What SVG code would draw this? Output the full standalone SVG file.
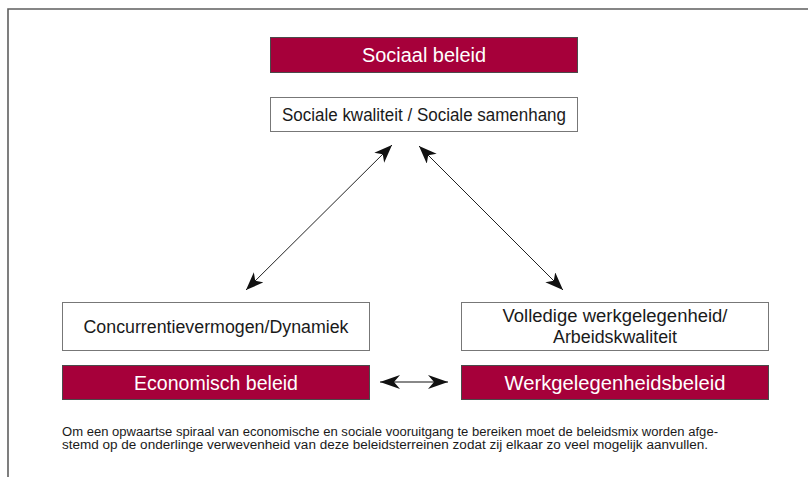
<svg xmlns="http://www.w3.org/2000/svg" width="808" height="477" viewBox="0 0 808 477">
<defs>
<style>
.frame{fill:none;stroke:#5f5f5f;stroke-width:1.6}
.red{fill:#a6003a;stroke:#4a4a4a;stroke-width:1}
.white{fill:#ffffff;stroke:#777;stroke-width:1}
.t{font-family:"Liberation Sans","DejaVu Sans",sans-serif;text-anchor:middle}
.tw{fill:#ffffff;font-size:19.5px}
.tb{fill:#1a1a1a;font-size:17.5px}
.note{font-family:"Liberation Sans","DejaVu Sans",sans-serif;font-size:12.5px;fill:#1a1a1a}
.conn{stroke:#222;stroke-width:1;fill:none}
.conn2{stroke:#888;stroke-width:2;fill:none}
</style>
<marker id="ah" markerUnits="userSpaceOnUse" markerWidth="20" markerHeight="16" refX="18" refY="7" orient="auto-start-reverse">
<path d="M0,0 L18,7 L0,14 L5,7 z" fill="#111"/>
</marker>
<marker id="ah2" markerUnits="userSpaceOnUse" markerWidth="22" markerHeight="16" refX="20" refY="7" orient="auto-start-reverse">
<path d="M0,0 L20,7 L0,14 L6,7 z" fill="#111"/>
</marker>
</defs>
<rect width="808" height="477" fill="#ffffff"/>
<path class="frame" d="M8,477 L8,9 L808,9"/>
<g id="connectors">
<line class="conn" x1="392" y1="145" x2="246" y2="290" marker-start="url(#ah)" marker-end="url(#ah)"/>
<line class="conn" x1="419" y1="146" x2="563" y2="290" marker-start="url(#ah)" marker-end="url(#ah)"/>
<line class="conn2" x1="380" y1="382" x2="448" y2="382" marker-start="url(#ah2)" marker-end="url(#ah2)"/>
</g>
<g id="sociaal-beleid">
<rect class="red" x="270.5" y="37.5" width="307" height="35"/>
<text class="t tw" x="424" y="61.5" textLength="124" lengthAdjust="spacingAndGlyphs">Sociaal beleid</text>
</g>
<g id="sociale-kwaliteit">
<rect class="white" x="270.5" y="97.5" width="307" height="34"/>
<text class="t tb" x="424" y="120.5" textLength="284" lengthAdjust="spacingAndGlyphs">Sociale kwaliteit / Sociale samenhang</text>
</g>
<g id="concurrentie">
<rect class="white" x="62.5" y="302.5" width="307" height="48"/>
<text class="t tb" x="216" y="332.5" textLength="265" lengthAdjust="spacingAndGlyphs">Concurrentievermogen/Dynamiek</text>
</g>
<g id="volledige">
<rect class="white" x="461.5" y="302.5" width="307" height="48"/>
<text class="t tb" x="615" y="321.5" textLength="225" lengthAdjust="spacingAndGlyphs">Volledige werkgelegenheid/</text>
<text class="t tb" x="615" y="343" textLength="124" lengthAdjust="spacingAndGlyphs">Arbeidskwaliteit</text>
</g>
<g id="economisch-beleid">
<rect class="red" x="62.5" y="365.5" width="307" height="34"/>
<text class="t tw" x="216" y="389.5" textLength="164" lengthAdjust="spacingAndGlyphs">Economisch beleid</text>
</g>
<g id="werkgelegenheidsbeleid">
<rect class="red" x="461.5" y="365.5" width="307" height="34"/>
<text class="t tw" x="615" y="389.5" textLength="221" lengthAdjust="spacingAndGlyphs">Werkgelegenheidsbeleid</text>
</g>
<g id="note">
<text class="note" x="62" y="435.5" textLength="656" lengthAdjust="spacingAndGlyphs">Om een opwaartse spiraal van economische en sociale vooruitgang te bereiken moet de beleidsmix worden afge-</text>
<text class="note" x="62" y="449" textLength="646" lengthAdjust="spacingAndGlyphs">stemd op de onderlinge verwevenheid van deze beleidsterreinen zodat zij elkaar zo veel mogelijk aanvullen.</text>
</g>
</svg>
